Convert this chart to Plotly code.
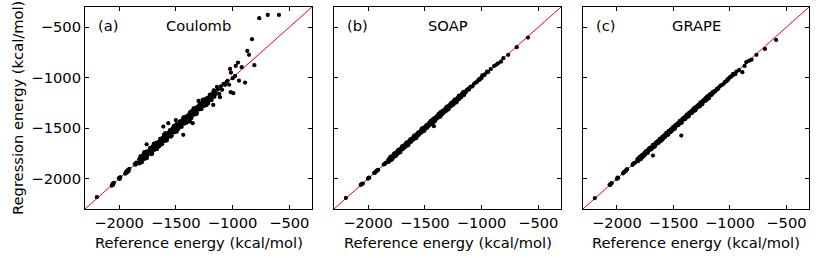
import plotly.graph_objects as go

# ---------------- data (kcal/mol) ----------------
reference = [
    -2195, -2065, -2058, -2052, -2046, -2001, -1995, -1989,
    -1946, -1938, -1931, -1924, -1917, -1910, -1862, -1855, -1848, -1842,
    -1822, -1815, -1811, -1806, -1800, -1797, -1791, -1786, -1780, -1776,
    -1770, -1765, -1759, -1754, -1748, -1743, -1738, -1731, -1726, -1720,
    -1716, -1709, -1704, -1699, -1693, -1688, -1682, -1677, -1671, -1665,
    -1660, -1655, -1649, -1644, -1638, -1632, -1628, -1621, -1617, -1611,
    -1605, -1600, -1596, -1590, -1584, -1579, -1573, -1568, -1563, -1557,
    -1552, -1546, -1541, -1535, -1530, -1525, -1519, -1513, -1509, -1503,
    -1497, -1492, -1487, -1481, -1476, -1470, -1465, -1459, -1454, -1448,
    -1443, -1437, -1432, -1427, -1421, -1416, -1410, -1405, -1399, -1394,
    -1388, -1383, -1377, -1372, -1366, -1361, -1355, -1350, -1344, -1339,
    -1333, -1328, -1322, -1317, -1311, -1306, -1300, -1295, -1289, -1284,
    -1278, -1273, -1267, -1262, -1256, -1251, -1245, -1240, -1234, -1229,
    -1223, -1218, -1212, -1207, -1201, -1196, -1190, -1184, -1178, -1172,
    -1166, -1160, -1153,
    -1818, -1803, -1783, -1768, -1751, -1735, -1712, -1696, -1679, -1663,
    -1646, -1625, -1608, -1593, -1576, -1560, -1544, -1527, -1511, -1495,
    -1478, -1462, -1446, -1430, -1413, -1397, -1380, -1364, -1347, -1331,
    -1314, -1298, -1281, -1264, -1248, -1231, -1215, -1199, -1181, -1163,
    -1145, -1138, -1128, -1117, -1111, -1104, -1092, -1080, -1066, -1052,
    -1043, -1030, -1022, -1016, -1014, -999, -993, -978, -972, -952,
    -943, -919, -890, -870, -855, -829, -808, -765, -690, -591,
]

coulomb = [
    -2183, -2070, -2052, -2060, -2040, -1995, -2002, -1985,
    -1950, -1930, -1940, -1915, -1925, -1903, -1855, -1862, -1840, -1850,
    -1807, -1835, -1779, -1816, -1795, -1835, -1769, -1791, -1740, -1804,
    -1760, -1780, -1733, -1796, -1745, -1725, -1723, -1751, -1694, -1730,
    -1711, -1747, -1682, -1704, -1653, -1716, -1672, -1692, -1645, -1707,
    -1657, -1637, -1634, -1664, -1606, -1642, -1623, -1659, -1595, -1616,
    -1565, -1628, -1586, -1605, -1558, -1621, -1570, -1550, -1548, -1577,
    -1520, -1556, -1536, -1573, -1508, -1530, -1479, -1541, -1499, -1518,
    -1471, -1534, -1484, -1463, -1461, -1490, -1433, -1469, -1449, -1486,
    -1421, -1442, -1392, -1455, -1411, -1431, -1384, -1447, -1396, -1376,
    -1373, -1403, -1345, -1382, -1361, -1399, -1333, -1355, -1304, -1367,
    -1323, -1343, -1296, -1359, -1308, -1288, -1285, -1315, -1257, -1294,
    -1273, -1311, -1245, -1267, -1216, -1279, -1235, -1255, -1208, -1271,
    -1220, -1200, -1197, -1227, -1169, -1206, -1185, -1222, -1156, -1177,
    -1126, -1188, -1143,
    -1848, -1778, -1795, -1733, -1773, -1727, -1757, -1666, -1697, -1651,
    -1679, -1605, -1616, -1548, -1601, -1545, -1584, -1499, -1521, -1459,
    -1508, -1437, -1458, -1395, -1435, -1389, -1425, -1334, -1365, -1319,
    -1347, -1278, -1289, -1219, -1273, -1216, -1255, -1171, -1191, -1127,
    -1160, -1090, -1115, -1160, -1193, -1085, -1120, -1062, -1071, -1040,
    -1030, -1070, -913, -1143, -949, -1005, -1153, -982, -883, -850,
    -1029, -896, -1048, -735, -774, -619, -876, -411, -378, -378,
]

soap = [
    -2190, -2062, -2055, -2050, -2048, -2000, -1992, -1990,
    -1943, -1940, -1928, -1926, -1915, -1912, -1860, -1853, -1850, -1840,
    -1814, -1827, -1796, -1811, -1780, -1815, -1788, -1808, -1769, -1783,
    -1753, -1779, -1757, -1746, -1760, -1728, -1743, -1711, -1744, -1717,
    -1738, -1698, -1711, -1682, -1707, -1686, -1674, -1689, -1656, -1670,
    -1640, -1673, -1646, -1666, -1627, -1639, -1611, -1635, -1615, -1603,
    -1617, -1585, -1601, -1570, -1602, -1576, -1595, -1557, -1570, -1540,
    -1566, -1544, -1533, -1547, -1515, -1530, -1499, -1531, -1506, -1525,
    -1486, -1499, -1470, -1495, -1474, -1462, -1477, -1444, -1459, -1428,
    -1461, -1434, -1454, -1416, -1428, -1399, -1424, -1403, -1391, -1406,
    -1373, -1388, -1357, -1390, -1363, -1383, -1344, -1357, -1327, -1353,
    -1331, -1320, -1334, -1302, -1316, -1286, -1318, -1292, -1311, -1273,
    -1285, -1256, -1281, -1260, -1248, -1263, -1230, -1245, -1214, -1247,
    -1220, -1240, -1201, -1214, -1184, -1210, -1188, -1176, -1190, -1157,
    -1171, -1140, -1171,
    -1833, -1791, -1789, -1750, -1771, -1726, -1715, -1674, -1690, -1658,
    -1661, -1613, -1614, -1575, -1596, -1551, -1547, -1505, -1522, -1490,
    -1493, -1450, -1452, -1412, -1433, -1388, -1383, -1342, -1358, -1326,
    -1329, -1286, -1287, -1246, -1268, -1222, -1218, -1177, -1192, -1158,
    -1138, -1145, -1120, -1110, -1118, -1096, -1087, -1085, -1060, -1048,
    -1045, -1026, -1018, -1020, -1010, -1002, -976, -975, -968, -940,
    -946, -916, -884, -872, -858, -841, -807, -774, -698, -603,
]

grape = [
    -2192, -2060, -2062, -2048, -2044, -2003, -1990, -1992,
    -1948, -1935, -1932, -1921, -1918, -1906, -1864, -1850, -1847, -1843,
    -1828, -1805, -1825, -1802, -1784, -1807, -1784, -1804, -1768, -1779,
    -1761, -1771, -1749, -1768, -1744, -1727, -1748, -1724, -1744, -1708,
    -1719, -1700, -1710, -1689, -1707, -1684, -1666, -1687, -1664, -1683,
    -1648, -1658, -1640, -1650, -1628, -1646, -1624, -1605, -1627, -1604,
    -1623, -1588, -1599, -1581, -1590, -1569, -1587, -1564, -1547, -1567,
    -1545, -1564, -1529, -1538, -1521, -1531, -1509, -1527, -1505, -1487,
    -1507, -1485, -1505, -1469, -1479, -1461, -1471, -1449, -1468, -1444,
    -1427, -1447, -1425, -1445, -1409, -1419, -1401, -1411, -1389, -1408,
    -1384, -1367, -1387, -1365, -1384, -1349, -1358, -1341, -1350, -1329,
    -1347, -1324, -1306, -1327, -1304, -1324, -1288, -1298, -1280, -1290,
    -1268, -1287, -1263, -1246, -1266, -1244, -1263, -1228, -1237, -1220,
    -1229, -1208, -1226, -1203, -1185, -1206, -1183, -1202, -1166, -1175,
    -1157, -1166, -1143,
    -1806, -1812, -1778, -1783, -1743, -1739, -1698, -1708, -1676, -1670,
    -1634, -1634, -1603, -1608, -1568, -1564, -1530, -1539, -1508, -1502,
    -1466, -1471, -1441, -1445, -1405, -1401, -1366, -1376, -1344, -1338,
    -1302, -1307, -1276, -1279, -1240, -1235, -1201, -1211, -1178, -1170,
    -1150, -1132, -1134, -1112, -1108, -1110, -1088, -1076, -1070, -1056,
    -1040, -1034, -1024, -1012, -1018, -995, -990, -980, -962, -965,
    -940, -925, -945, -883, -846, -831, -822, -774, -715, -626,
]

# extra scattered points seen only in one panel
coulomb_extra_ref = [-1566, -1610, -1434, -1351, -1375, -1170, -1757, -1500, -1300]
coulomb_extra_reg = [-1450, -1484, -1566, -1450, -1435, -1270, -1660, -1420, -1230]
soap_extra_ref = [-1420]
soap_extra_reg = [-1480]
grape_extra_ref = [-1430, -1681]
grape_extra_reg = [-1573, -1771]

panel_names = ["Coulomb", "SOAP", "GRAPE"]
panel_tags = ["(a)", "(b)", "(c)"]
tick_vals = [-2000, -1500, -1000, -500]
tick_text = ["\u22122000", "\u22121500", "\u22121000", "\u2212500"]
axis_range = [-2300, -300]

# ---------------- figure ----------------
FONT = "DejaVu Sans"
FS = 14.7
W, H = 830, 258
ML, MR, MT, MB = 85, 21, 7, 49
PW = W - ML - MR
PH = H - MT - MB
px_dom = [(85, 312), (334, 561), (583, 809)]
domains = [[(a - ML) / PW, (b - ML) / PW] for a, b in px_dom]

fig = go.Figure()
series = [
    (reference + coulomb_extra_ref, coulomb + coulomb_extra_reg),
    (reference + soap_extra_ref, soap + soap_extra_reg),
    (reference + grape_extra_ref, grape + grape_extra_reg),
]

for k in range(3):
    xa = "x" if k == 0 else f"x{k+1}"
    ya = "y" if k == 0 else f"y{k+1}"
    fig.add_trace(go.Scatter(
        x=axis_range, y=axis_range, mode="lines",
        line=dict(color="red", width=1), xaxis=xa, yaxis=ya,
        showlegend=False, hoverinfo="skip"))
    xs, ys = series[k]
    fig.add_trace(go.Scatter(
        x=xs, y=ys, mode="markers",
        marker=dict(color="black", size=4.2, line=dict(width=0)),
        xaxis=xa, yaxis=ya, showlegend=False))

axis_common = dict(
    range=axis_range, showgrid=False, zeroline=False, automargin=False,
    showline=True, linecolor="black", linewidth=1, mirror="ticks",
    ticks="inside", ticklen=4, tickwidth=1, tickcolor="black",
    tickvals=tick_vals, ticktext=tick_text,
    tickfont=dict(family=FONT, size=FS, color="black"),
)

layout = dict(
    width=W, height=H,
    margin=dict(l=ML, r=MR, t=MT, b=MB, autoexpand=False),
    paper_bgcolor="white", plot_bgcolor="white",
    font=dict(family=FONT, size=FS, color="black"),
    showlegend=False,
)
for k in range(3):
    xkey = "xaxis" if k == 0 else f"xaxis{k+1}"
    ykey = "yaxis" if k == 0 else f"yaxis{k+1}"
    layout[xkey] = dict(axis_common, domain=domains[k],
                        anchor="y" if k == 0 else f"y{k+1}")
    layout[ykey] = dict(axis_common, domain=[0, 1],
                        anchor="x" if k == 0 else f"x{k+1}",
                        showticklabels=(k == 0))
fig.update_layout(**layout)

ann = []
for k in range(3):
    a, b = px_dom[k]
    cx = ((a + b) / 2 - ML) / PW
    ann.append(dict(text="Reference energy (kcal/mol)", x=cx, y=(H - MB - 243) / PH,
                    xref="paper", yref="paper", showarrow=False,
                    xanchor="center", yanchor="middle",
                    font=dict(family=FONT, size=FS, color="black")))
    ann.append(dict(text=panel_names[k], x=cx, y=1 - (26 - MT) / PH,
                    xref="paper", yref="paper", showarrow=False,
                    xanchor="center", yanchor="middle",
                    font=dict(family=FONT, size=FS, color="black")))
    ann.append(dict(text=panel_tags[k], x=(a + 11 - ML) / PW, y=1 - (26 - MT) / PH,
                    xref="paper", yref="paper", showarrow=False,
                    xanchor="left", yanchor="middle",
                    font=dict(family=FONT, size=FS, color="black")))
ann.append(dict(text="Regression energy (kcal/mol)", x=(17 - ML) / PW, y=0.5,
                xref="paper", yref="paper", showarrow=False, textangle=-90,
                xanchor="center", yanchor="middle",
                font=dict(family=FONT, size=FS, color="black")))
fig.update_layout(annotations=ann)

fig.write_html(
    "out.html",
    config={"displayModeBar": False},
    post_script="document.body.style.margin='0';document.body.style.overflow='hidden';",
)
